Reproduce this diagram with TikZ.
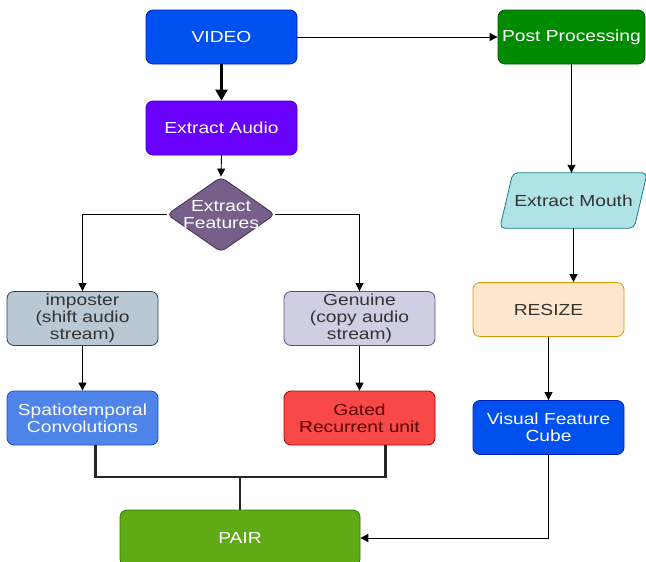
\documentclass[tikz,border=0pt]{standalone}
\usepackage{fontspec}
\setmainfont{Liberation Sans}[FakeStretch=1.2]
\usetikzlibrary{shapes.geometric,arrows.meta}
\definecolor{cVideo}{HTML}{0050EF}
\definecolor{cVideoD}{HTML}{001DBC}
\definecolor{cPost}{HTML}{008A00}
\definecolor{cPostD}{HTML}{005700}
\definecolor{cAudio}{HTML}{6A00FF}
\definecolor{cAudioD}{HTML}{3700CC}
\definecolor{cFeat}{HTML}{76608A}
\definecolor{cFeatD}{HTML}{432D57}
\definecolor{cImp}{HTML}{BAC8D3}
\definecolor{cImpD}{HTML}{23445D}
\definecolor{cGen}{HTML}{D0CEE2}
\definecolor{cGenD}{HTML}{56517E}
\definecolor{cSpat}{HTML}{4F84EA}
\definecolor{cSpatD}{HTML}{1A4FC0}
\definecolor{cGru}{HTML}{F94848}
\definecolor{cGruD}{HTML}{B20000}
\definecolor{cGruT}{HTML}{5A0000}
\definecolor{cMouth}{HTML}{B0E3E6}
\definecolor{cMouthD}{HTML}{0E8088}
\definecolor{cRes}{HTML}{FFE6CC}
\definecolor{cResD}{HTML}{D79B00}
\definecolor{cPair}{HTML}{60A917}
\definecolor{cPairD}{HTML}{2D7600}
\definecolor{cText}{HTML}{333333}
\begin{document}
\begin{tikzpicture}[x=1pt,y=-1pt,
  box/.style={rectangle,rounded corners=7pt,minimum width=151pt,minimum height=54pt,
    inner sep=0pt,align=center,font=\fontsize{16}{17}\selectfont,line width=0.8pt},
  arr/.style={-{Triangle[length=8pt,width=8pt]},line width=0.9pt,draw=black},
  arrthick/.style={-{Triangle[length=11pt,width=12pt]},line width=2.4pt,draw=black},
  ln/.style={line width=2.6pt,draw=black!85}]
\useasboundingbox (0,0) rectangle (646,562);

\node[box,fill=cVideo,draw=cVideoD,text=white] (video) at (221.5,37) {VIDEO};
\node[box,fill=cPost,draw=cPostD,text=white,minimum width=147pt] (post) at (571.5,37) {Post Processing};
\node[box,fill=cAudio,draw=cAudioD,text=white] (audio) at (221.5,128) {Extract Audio};
\node[diamond,fill=cFeat,draw=cFeatD,line width=0.8pt,minimum width=108pt,minimum height=75pt,
  inner sep=0pt,rounded corners=5pt,
  label={[align=center,text=white,font=\fontsize{16}{17}\selectfont]center:Extract\\Features}] (feat) at (221,214.5) {};
\node[box,fill=cImp,draw=cImpD,text=cText] (imp) at (82.5,318.5) {imposter\\(shift audio\\stream)};
\node[box,fill=cGen,draw=cGenD,text=cText] (gen) at (359.5,318.5) {Genuine\\(copy audio\\stream)};
\node[box,fill=cSpat,draw=cSpatD,text=white] (spat) at (82.5,418) {Spatiotemporal\\Convolutions};
\node[box,fill=cGru,draw=cGruD,text=cGruT] (gru) at (359.5,418) {Gated\\Recurrent unit};
\node[box,fill=cPair,draw=cPairD,text=white,minimum width=240pt,minimum height=56pt] (pair) at (240,538) {PAIR};

\node[rectangle,minimum width=147pt,minimum height=55pt,inner sep=0pt] (mouth) at (573.5,200.5) {};
\draw[fill=cMouth,draw=cMouthD,line width=0.8pt,rounded corners=5pt]
  ([xshift=13pt]mouth.north west) -- (mouth.north east) -- ([xshift=-13pt]mouth.south east)
  -- (mouth.south west) -- cycle;
\node[text=cText,font=\fontsize{16}{17}\selectfont] (mouthlbl) at (mouth.center) {Extract Mouth};

\node[box,fill=cRes,draw=cResD,text=cText] (res) at (548.5,309.5) {RESIZE};
\node[box,fill=cVideo,draw=cVideoD,text=white] (vfc) at (548.5,427.5) {Visual Feature\\Cube};

% connectors
\draw[arr] (video.east) -- (post.west);
\draw[arrthick] (video.south) -- (audio.north);
\draw[arr] (audio.south) -- (feat.north);
\draw[arr] (feat.west) -| (imp.north);
\draw[arr] (feat.east) -| (gen.north);
\draw[arr] (imp.south) -- (spat.north);
\draw[arr] (gen.south) -- (gru.north);
\draw[arr] (post.south) -- (post.south |- mouth.north);
\draw[arr] (mouth.south) -- (mouth.south |- res.north);
\draw[arr] (res.south) -- (vfc.north);
\draw[arr] (vfc.south) |- (pair.east);

\coordinate (jL) at ([xshift=13pt]spat.south);
\coordinate (jR) at ([xshift=26pt]gru.south);
\coordinate (jM) at (240,477);
\draw[ln] (jL) |- (jM) -| (jR);
\draw[ln] (jM) -- (pair.north);
\end{tikzpicture}
\end{document}
